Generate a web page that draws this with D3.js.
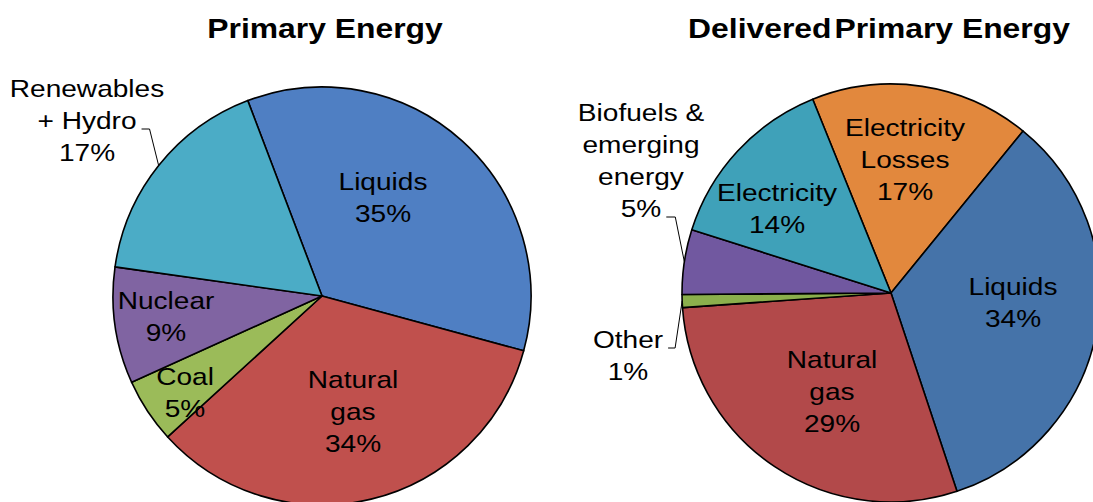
<!DOCTYPE html>
<html>
<head>
<meta charset="utf-8">
<script src="https://cdn.jsdelivr.net/npm/d3@7"></script>
<style>
body { margin: 0; background: #fff; }
text { font-family: "Liberation Sans", Arial, sans-serif; fill: #000; }
</style>
</head>
<body>
<div id="chart"></div>
<script>
// Primary Energy
var primaryNames = ["Liquids", "Natural\ngas", "Coal", "Nuclear", "Renewables\n+ Hydro"];
var primaryValues = [35, 34, 5, 9, 17];
var primaryColors = ["#4f7fc3", "#c0504d", "#9bbb59", "#8064a2", "#4bacc6"];

// Delivered Primary Energy
var deliveredNames = ["Electricity\nLosses", "Liquids", "Natural\ngas", "Other", "Biofuels &\nemerging\nenergy", "Electricity"];
var deliveredValues = [17, 34, 29, 1, 5, 14];
var deliveredColors = ["#e2883d", "#4573a9", "#b2494a", "#8baf4c", "#7158a0", "#3fa1b9"];

var width = 1093,
    height = 502,
    radius = 209,
    lineGap = 32,
    stretch = 1.17;   // the labels in the picture are a bit wide

var svg = d3.select("#chart").append("svg")
    .attr("width", width)
    .attr("height", height);

function drawPie(o) {
    var g = svg.append("g")
        .attr("transform", "translate(" + o.cx + "," + o.cy + ")");

    var start = o.start * Math.PI / 180;
    var pie = d3.pie().sort(null)
        .startAngle(start)
        .endAngle(start + 2 * Math.PI);
    var arc = d3.arc().innerRadius(0).outerRadius(radius);
    var rim = d3.arc().innerRadius(radius).outerRadius(radius);

    var slices = pie(o.values);

    g.selectAll("path.slice")
        .data(slices)
        .enter().append("path")
        .attr("class", "slice")
        .attr("d", arc)
        .attr("fill", function (d, i) { return o.colors[i]; })
        .attr("stroke", "#000")
        .attr("stroke-width", 1.6)
        .attr("stroke-linejoin", "round");

    slices.forEach(function (d, i) {
        var lines = o.names[i].split("\n").concat([o.values[i] + "%"]);
        var pos = o.labelPos[i];
        var lab = g.append("g")
            .attr("transform", "translate(" + pos[0] + "," + pos[1] + ") scale(" + stretch + ",1)");
        var t = lab.append("text")
            .attr("text-anchor", "middle")
            .style("font-size", "24px");
        var spans = [];
        lines.forEach(function (s, k) {
            spans.push(t.append("tspan")
                .attr("x", 0)
                .attr("y", k * lineGap)
                .text(s));
        });

        var ld = o.leaders[i];
        if (ld) {
            // leader from the end of one label line to the slice rim
            var w = spans[ld.line].node().getComputedTextLength() * stretch;
            var x0 = pos[0] + w / 2 + 5,
                y0 = pos[1] + ld.line * lineGap;
            var end = rim.centroid(d);
            g.append("path")
                .attr("d", d3.line()([[x0, y0], [x0 + ld.run, y0], end]))
                .attr("fill", "none")
                .attr("stroke", "#000")
                .attr("stroke-width", 1);
        }
    });

    var title = svg.append("g")
        .attr("transform", "translate(" + o.titleX + ",38) scale(1.18,1)")
        .append("text")
        .attr("text-anchor", "middle")
        .style("font-size", "27px")
        .style("font-weight", "bold");
    o.title.forEach(function (s, k) {
        title.append("tspan")
            .attr("dx", k ? o.titleGap : 0)
            .text(s);
    });
}

drawPie({
    title: ["Primary Energy"],
    titleX: 325,
    cx: 322, cy: 296, start: -20.8,
    names: primaryNames, values: primaryValues, colors: primaryColors,
    labelPos: [[61, -106], [31, 92], [-137, 89], [-156, 13], [-235, -199]],
    leaders: {4: {line: 1, run: 8}}
});

drawPie({
    title: ["Delivered", " Primary Energy"],
    titleGap: -5,
    titleX: 879,
    cx: 891, cy: 293, start: -22,
    names: deliveredNames, values: deliveredValues, colors: deliveredColors,
    labelPos: [[14, -157], [122, 2], [-59, 75], [-263, 55], [-250, -172], [-114, -92]],
    leaders: {3: {line: 0, run: 7}, 4: {line: 3, run: 9}}
});
</script>
</body>
</html>
